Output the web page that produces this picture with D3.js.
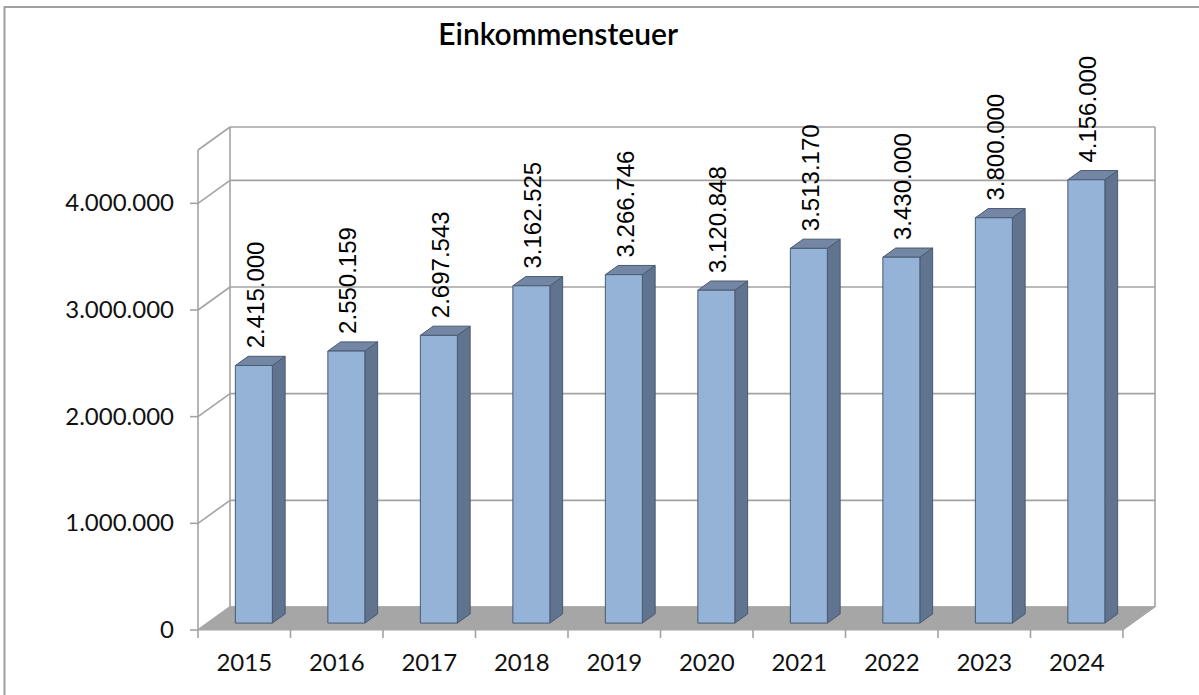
<!DOCTYPE html>
<html>
<head>
<meta charset="utf-8">
<script src="https://cdn.jsdelivr.net/npm/d3@7"></script>
<style>
  body { margin: 0; background: #fff; }
  svg { display: block; }
</style>
</head>
<body>
<svg id="chart"></svg>
<script>
const width = 1199, height = 695;

const years = ["2015", "2016", "2017", "2018", "2019", "2020", "2021", "2022", "2023", "2024"];
const values = [2415000, 2550159, 2697543, 3162525, 3266746, 3120848, 3513170, 3430000, 3800000, 4156000];
const yTicks = [0, 1000000, 2000000, 3000000, 4000000];
const yMax = 4500000;
const title = "Einkommensteuer";

// 3d depth offset of the plot box (front -> back)
const DX = 32, DY = -23;

const de = d3.formatLocale({ decimal: ",", thousands: ".", grouping: [3], currency: ["", "€"] });
const fmt = de.format(",.0f");

const svg = d3.select("#chart")
    .attr("width", width)
    .attr("height", height);

const x = d3.scaleBand().domain(years).range([198, 1123]).padding(0);
const y = d3.scaleLinear().domain([0, yMax]).range([630, 150]);

const proj = (px, py, z) => [px + z * DX, py + z * DY];
const poly = pts => pts.map(p => p.join(",")).join(" ");

const gridColor = "#a3a3a3";

// outer frame
svg.append("path")
    .attr("d", `M4.5,${height} V7 H${width}`)
    .attr("fill", "none")
    .attr("stroke", "#a0a0a0")
    .attr("stroke-width", 2);

// walls
const x0 = x.range()[0], x1 = x.range()[1];
const grid = svg.append("g");
const gridVals = yTicks.concat([yMax]);

gridVals.forEach(v => {
    const yy = y(v);
    // back wall line
    grid.append("line")
        .attr("x1", x0 + DX).attr("x2", x1 + DX)
        .attr("y1", yy + DY).attr("y2", yy + DY)
        .attr("stroke", gridColor).attr("stroke-width", 1.6);
    // side wall diagonal
    grid.append("line")
        .attr("x1", x0).attr("y1", yy)
        .attr("x2", x0 + DX).attr("y2", yy + DY)
        .attr("stroke", gridColor).attr("stroke-width", 1.6);
});
// verticals
[[x0, 0], [x0 + DX, 1], [x1 + DX, 1]].forEach(([vx, z]) => {
    grid.append("line")
        .attr("x1", vx).attr("x2", vx)
        .attr("y1", y(yMax) + z * DY).attr("y2", y(0) + z * DY)
        .attr("stroke", gridColor).attr("stroke-width", 1.6);
});

// floor
svg.append("polygon")
    .attr("points", poly([[x0, y(0)], [x1, y(0)], [x1 + DX, y(0) + DY], [x0 + DX, y(0) + DY]]))
    .attr("fill", "#a6a6a6")
    .attr("stroke", "#a6a6a6")
    .attr("stroke-width", 1);

// y axis ticks + labels
const yAxis = svg.append("g");
yTicks.forEach(v => {
    yAxis.append("line")
        .attr("x1", x0 - 8).attr("x2", x0)
        .attr("y1", y(v)).attr("y2", y(v))
        .attr("stroke", gridColor).attr("stroke-width", 1.6);
    yAxis.append("text")
        .attr("x", 174).attr("y", y(v) + 8)
        .attr("text-anchor", "end")
        .attr("font-family", "Lato, sans-serif")
        .attr("font-size", 24)
        .attr("fill", "#111")
        .text(fmt(v));
});

// x axis ticks + labels
const xAxis = svg.append("g");
years.concat([null]).forEach(yr => {
    const tx = yr ? x(yr) : x1;
    xAxis.append("line")
        .attr("x1", tx).attr("x2", tx)
        .attr("y1", y(0)).attr("y2", y(0) + 8)
        .attr("stroke", gridColor).attr("stroke-width", 1.6);
});
years.forEach(yr => {
    xAxis.append("text")
        .attr("x", x(yr) + x.bandwidth() / 2)
        .attr("y", 671)
        .attr("text-anchor", "middle")
        .attr("font-family", "Lato, sans-serif")
        .attr("font-size", 24)
        .attr("fill", "#111")
        .text(yr);
});

// bars
const zA = 0.3, zB = 0.7;
const bars = svg.append("g");
years.forEach((yr, i) => {
    const v = values[i];
    const bx0 = x(yr) + x.bandwidth() * 0.3;
    const bx1 = bx0 + x.bandwidth() * 0.4;
    const top = y(v), base = y(0);

    const fTL = proj(bx0, top, zA), fTR = proj(bx1, top, zA);
    const fBL = proj(bx0, base, zA), fBR = proj(bx1, base, zA);
    const bTL = proj(bx0, top, zB), bTR = proj(bx1, top, zB);
    const bBR = proj(bx1, base, zB);

    bars.append("polygon")
        .attr("points", poly([fTR, bTR, bBR, fBR]))
        .attr("fill", "#60738f").attr("stroke", "#4a5a70").attr("stroke-width", 1);
    bars.append("polygon")
        .attr("points", poly([fTL, bTL, bTR, fTR]))
        .attr("fill", "#7387a5").attr("stroke", "#4a5a70").attr("stroke-width", 1);
    bars.append("polygon")
        .attr("points", poly([fTL, fTR, fBR, fBL]))
        .attr("fill", "#95b3d7").attr("stroke", "#4a5a70").attr("stroke-width", 1);

    const cx = (fTL[0] + fTR[0]) / 2 + 1;
    bars.append("text")
        .attr("transform", `translate(${cx + 9},${bTL[1] - 8}) rotate(-90)`)
        .attr("font-family", "'Liberation Sans', Arial, sans-serif")
        .attr("font-size", 24)
        .attr("fill", "#000")
        .text(fmt(v));
});

// title
svg.append("text")
    .attr("x", 678).attr("y", 45)
    .attr("text-anchor", "end")
    .attr("font-family", "Lato, sans-serif")
    .attr("font-size", 30)
    .attr("font-weight", 600)
    .attr("fill", "#000")
    .text(title);
</script>
</body>
</html>
